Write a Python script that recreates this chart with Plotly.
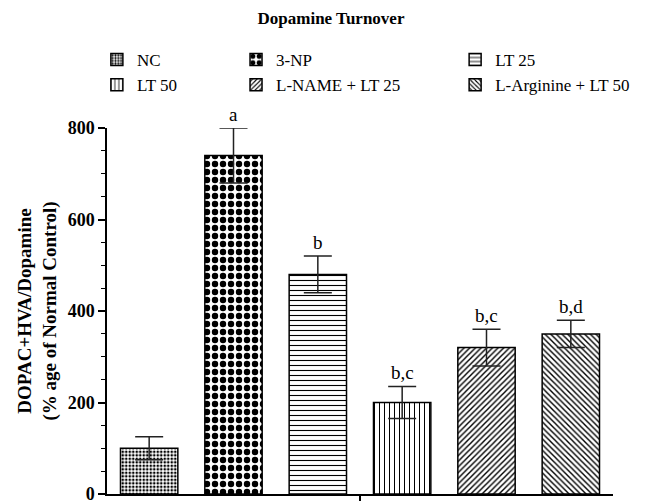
import plotly.graph_objects as go

# Dopamine turnover per treatment group (% of normal control)
groups = ["NC", "3-NP", "LT 25", "LT 50", "L-NAME + LT 25", "L-Arginine + LT 50"]
means = [100, 740, 480, 200, 320, 350]
sems = [25, 60, 40, 35, 40, 30]
sig_labels = ["", "a", "b", "b,c", "b,c", "b,d"]

y_ticks = [0, 200, 400, 600, 800]

patterns = [
    dict(shape=".", size=3.5, solidity=0.45),
    dict(shape=".", size=8, solidity=0.5),
    dict(shape="-", size=5, solidity=0.22),
    dict(shape="|", size=5, solidity=0.2),
    dict(shape="/", size=4, solidity=0.35),
    dict(shape="\\", size=4, solidity=0.35),
]
# three legend columns, two rows each
legend_ids = ["legend", "legend2", "legend3", "legend", "legend2", "legend3"]

SERIF = "Liberation Serif, Times New Roman, serif"

fig = go.Figure()
for i, name in enumerate(groups):
    pat = dict(patterns[i], fgcolor="black", bgcolor="white", fillmode="replace")
    fig.add_trace(go.Bar(
        x=[i], y=[means[i]], name=name, width=0.68,
        marker=dict(color="white", pattern=pat,
                    line=dict(color="black", width=1.5)),
        error_y=dict(type="data", array=[sems[i]], visible=True,
                     color="#222", thickness=1.5, width=14),
        legend=legend_ids[i],
    ))
    if sig_labels[i]:
        fig.add_annotation(x=i, y=means[i] + sems[i], text=sig_labels[i],
                           showarrow=False, yanchor="bottom", yshift=1,
                           font=dict(family=SERIF, size=19, color="black"))

legend_style = dict(font=dict(family=SERIF, size=17, color="black"),
                    orientation="v", xanchor="left", yanchor="top",
                    bgcolor="rgba(0,0,0,0)", tracegroupgap=0, itemwidth=30)
fig.update_layout(
    width=662, height=501,
    margin=dict(l=107, r=49, t=128, b=7, autoexpand=False),
    plot_bgcolor="white", paper_bgcolor="white",
    barmode="overlay",
    title=dict(text="Dopamine Turnover", x=0.5, xanchor="center",
               y=0.963, yanchor="middle",
               font=dict(family=SERIF, size=17, color="black", weight="bold")),
    legend=dict(legend_style, x=-0.02, y=1.235),
    legend2=dict(legend_style, x=0.255, y=1.235),
    legend3=dict(legend_style, x=0.688, y=1.235),
    xaxis=dict(range=[-0.5, 5.5], tickvals=[2.5], ticktext=[""],
               ticks="outside", ticklen=6, tickwidth=1.5, tickcolor="black",
               showline=True, linecolor="black", linewidth=1.5,
               showgrid=False, zeroline=False, fixedrange=True,
               automargin=False),
    yaxis=dict(range=[0, 800], tickvals=y_ticks,
               ticks="outside", ticklen=7, tickwidth=1.5, tickcolor="black",
               minor=dict(dtick=50, ticks="outside", ticklen=4,
                          tickwidth=1.2, tickcolor="black", showgrid=False),
               showline=True, linecolor="black", linewidth=1.5,
               showgrid=False, zeroline=False, automargin=False,
               ticklabeloverflow="allow",
               tickfont=dict(family=SERIF, size=18, color="black", weight="bold"),
               title=dict(text="DOPAC+HVA/Dopamine<br>(% age of Normal Control)",
                          font=dict(family=SERIF, size=19, color="black", weight="bold"),
                          standoff=6)),
    font=dict(family=SERIF, color="black"),
)

fig.write_html("out.html")
